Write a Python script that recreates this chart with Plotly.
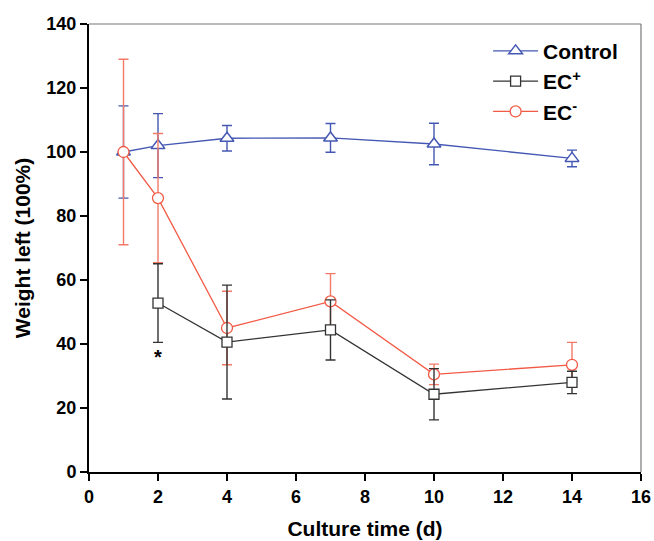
import plotly.graph_objects as go

# Data
ctrl_x = [1, 2, 4, 7, 10, 14]
ctrl_y = [100, 102, 104.3, 104.4, 102.5, 98]
ctrl_err = [14.4, 10, 4, 4.5, 6.5, 2.6]

ecp_x = [2, 4, 7, 10, 14]
ecp_y = [52.8, 40.6, 44.4, 24.3, 28.0]
ecp_err = [12.3, 17.8, 9.4, 8, 3.5]

ecm_x = [1, 2, 4, 7, 10, 14]
ecm_y = [100, 85.6, 45.0, 53.3, 30.5, 33.5]
ecm_err = [29, 20.2, 11.5, 8.7, 3.2, 7]

x_ticks = [0, 2, 4, 6, 8, 10, 12, 14, 16]
y_ticks = [0, 20, 40, 60, 80, 100, 120, 140]

BLUE = "#4558b3"
BLACK = "#333333"
RED = "#f15a45"
RED_ERR = "#f47a68"

FONT = "Liberation Sans, Arial, sans-serif"

fig = go.Figure()

fig.add_trace(go.Scatter(
    x=ctrl_x, y=ctrl_y, name="<b>Control</b>", mode="lines+markers",
    legendgroup="a", legendrank=1,
    line=dict(color=BLUE, width=1.3),
    marker=dict(symbol="triangle-up", size=12, color="white",
                line=dict(color=BLUE, width=1.5)),
    error_y=dict(type="data", array=ctrl_err, color=BLUE, thickness=1.4, width=5),
))
fig.add_trace(go.Scatter(
    x=ecm_x, y=ecm_y, name="<b>EC<sup>-</sup></b>", mode="lines+markers",
    legendgroup="c", legendrank=3,
    line=dict(color=RED, width=1.3),
    marker=dict(symbol="circle", size=11, color="white",
                line=dict(color=RED, width=1.3)),
    error_y=dict(type="data", array=ecm_err, color=RED_ERR, thickness=1.4, width=5),
))
fig.add_trace(go.Scatter(
    x=ecp_x, y=ecp_y, name="<b>EC<sup>+</sup></b>", mode="lines+markers",
    legendgroup="b", legendrank=2,
    line=dict(color=BLACK, width=1.3),
    marker=dict(symbol="square", size=10, color="white",
                line=dict(color=BLACK, width=1.3)),
    error_y=dict(type="data", array=ecp_err, color=BLACK, thickness=1.4, width=5),
))

fig.add_annotation(x=2, y=36, text="<b>*</b>", showarrow=False,
                   font=dict(family=FONT, size=20, color="black"))

fig.update_layout(
    width=654, height=541,
    margin=dict(l=89, r=13, t=24, b=69),
    paper_bgcolor="white", plot_bgcolor="white",
    font=dict(family=FONT, color="black"),
    showlegend=True,
    legend=dict(x=0.723, y=0.985, xanchor="left", yanchor="top",
                bgcolor="rgba(0,0,0,0)", font=dict(family=FONT, size=21, color="black"),
                traceorder="normal", tracegroupgap=10, itemwidth=45),
    xaxis=dict(range=[0, 16], tickvals=x_ticks, ticktext=[f"<b>{v}</b>" for v in x_ticks],
               automargin=False,
               showgrid=False, zeroline=False, showline=True, linecolor="black", linewidth=2,
               ticks="outside", ticklen=7, tickwidth=2, tickcolor="black",
               tickfont=dict(family=FONT, size=18, color="black"),
               title=dict(text="<b>Culture time (d)</b>", font=dict(family=FONT, size=21), standoff=16)),
    yaxis=dict(range=[0, 140], tickvals=y_ticks, ticktext=[f"<b>{v}</b>" for v in y_ticks],
               automargin=False,
               showgrid=False, zeroline=False, showline=True, linecolor="black", linewidth=2,
               ticks="outside", ticklen=7, tickwidth=2, tickcolor="black",
               tickfont=dict(family=FONT, size=18, color="black"),
               title=dict(text="<b>Weight left (100%)</b>", font=dict(family=FONT, size=21), standoff=10)),
    shapes=[
        dict(type="line", xref="paper", yref="paper", x0=0, x1=1, y0=1, y1=1,
             line=dict(color="#777777", width=1.2)),
        dict(type="line", xref="paper", yref="paper", x0=1, x1=1, y0=0, y1=1,
             line=dict(color="#777777", width=1.2)),
    ],
)

fig.write_html("out.html")
